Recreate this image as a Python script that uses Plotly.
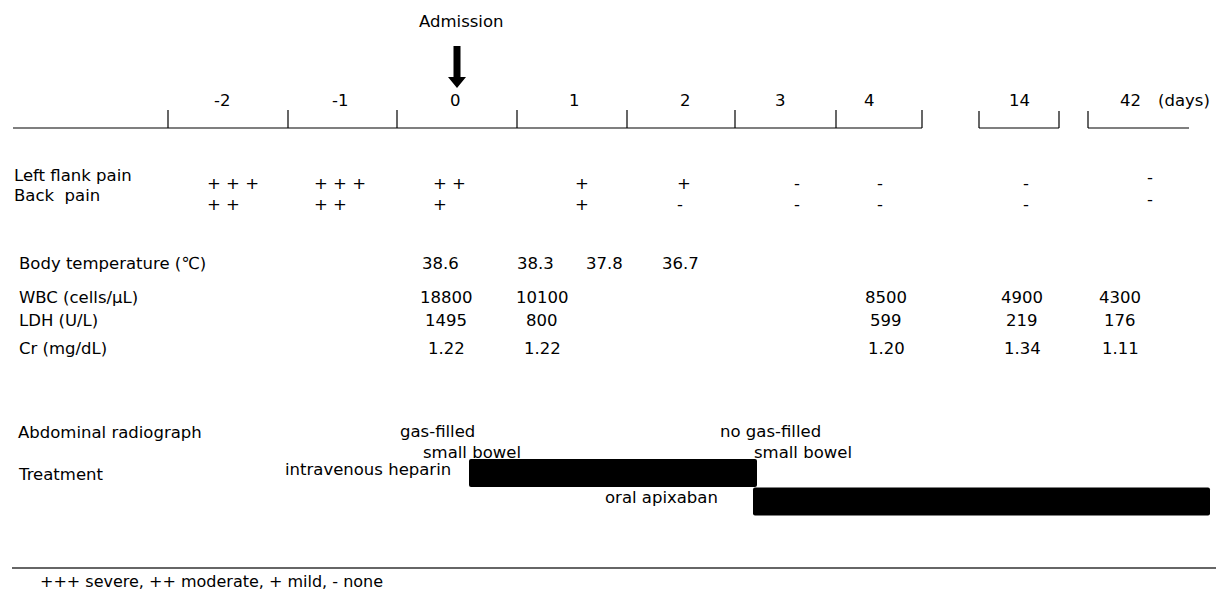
import plotly.graph_objects as go

# ---------------- data ----------------
days = ["-2", "-1", "0", "1", "2", "3", "4", "14", "42"]
left_flank_pain = ["+ + +", "+ + +", "+ +", "+", "+", "-", "-", "-", "-"]
back_pain = ["+ +", "+ +", "+", "+", "-", "-", "-", "-", "-"]

body_temperature = [38.6, 38.3, 37.8, 36.7]
lab_days = ["0", "1", "4", "14", "42"]
wbc = [18800, 10100, 8500, 4900, 4300]
ldh = [1495, 800, 599, 219, 176]
cr = [1.22, 1.22, 1.20, 1.34, 1.11]

radiograph = ["gas-filled<br>small bowel", "no gas-filled<br>small bowel"]
treatments = ["intravenous heparin", "oral apixaban"]
treatment_start = [469, 753]   # timeline position (start of therapy)
treatment_end = [757, 1210]    # timeline position (end of displayed therapy)

footnote = "+++ severe, ++ moderate, + mild, - none"

# ---------------- layout positions ----------------
FONT = dict(family="DejaVu Sans", size=16.5, color="black")
W, H = 1216, 592
DAY_LABEL_X = [222, 340, 455, 574, 685, 780, 869, 1019, 1130]
TICK_X = [168, 288, 397, 517, 627, 735, 836, 922]
PAIN_X = [205, 312, 431, 573, 675, 792, 875, 1021, 1145]
PAIN_Y1 = [183, 183, 183, 183, 183, 183, 183, 183, 177]
PAIN_Y2 = [204, 204, 204, 204, 204, 204, 204, 204, 199]
TEMP_X = [440, 535, 604, 680]
LAB_X = [446, 542, 886, 1022, 1120]
Y_TEMP, Y_WBC, Y_LDH, Y_CR = 263, 297, 320, 348

fig = go.Figure()
annotations = []
shapes = []


def txt(x, y, s, anchor="center", size=None):
    f = dict(FONT)
    if size:
        f["size"] = size
    annotations.append(dict(x=x, y=y, xref="x", yref="y", text=s, showarrow=False,
                            xanchor=anchor, yanchor="middle", font=f, align="left"))


def line(x0, y0, x1, y1, w=1.2, color="black"):
    shapes.append(dict(type="line", xref="x", yref="y", x0=x0, y0=y0, x1=x1, y1=y1,
                       line=dict(color=color, width=w)))


# timeline axis
line(13, 128, 922, 128)
for tx in TICK_X:
    line(tx, 110, tx, 128)
# follow-up brackets
line(979, 128, 1059, 128)
line(979, 111, 979, 128)
line(1059, 111, 1059, 128)
line(1088, 128, 1189, 128)
line(1088, 111, 1088, 128)

for d, x in zip(days, DAY_LABEL_X):
    txt(x, 100, d)
txt(1184, 100, "(days)")

# admission marker
txt(461, 21, "Admission")
shapes.append(dict(type="path", xref="x", yref="y",
                   path="M 453.5 46 L 460.5 46 L 460.5 77 L 466 77 L 457 88 L 448 77 L 453.5 77 Z",
                   fillcolor="black", line=dict(color="black", width=0)))

# row labels
txt(12, 175, "Left flank pain", "left")
txt(12, 195, "Back\u00a0 pain", "left")
txt(17, Y_TEMP, "Body temperature (℃)", "left")
txt(17, Y_WBC, "WBC (cells/μL)", "left")
txt(17, Y_LDH, "LDH (U/L)", "left")
txt(17, Y_CR, "Cr (mg/dL)", "left")
txt(16, 432, "Abdominal radiograph", "left")
txt(16, 474, "Treatment", "left")

# pain scores
for s, x, y in zip(left_flank_pain, PAIN_X, PAIN_Y1):
    txt(x, y, s, "left")
for s, x, y in zip(back_pain, PAIN_X, PAIN_Y2):
    txt(x, y, s, "left")

# vitals / labs
for v, x in zip(body_temperature, TEMP_X):
    txt(x, Y_TEMP, f"{v:.1f}")
for v, x in zip(wbc, LAB_X):
    txt(x, Y_WBC, f"{v}")
for v, x in zip(ldh, LAB_X):
    txt(x, Y_LDH, f"{v}")
for v, x in zip(cr, LAB_X):
    txt(x, Y_CR, f"{v:.2f}")

# radiograph findings
txt(398, 431, "gas-filled", "left")
txt(421, 452, "small bowel", "left")
txt(718, 431, "no gas-filled", "left")
txt(752, 452, "small bowel", "left")

# treatment bars
bar_y = [473, 501.5]
fig.add_trace(go.Bar(
    y=bar_y, base=treatment_start,
    x=[e - s for s, e in zip(treatment_start, treatment_end)],
    orientation="h", width=28, marker=dict(color="black", line=dict(width=0)),
    hoverinfo="skip", showlegend=False))
txt(453, 469, treatments[0], "right")
txt(720, 497, treatments[1], "right")

# bottom rule + footnote
line(12, 568, 1216, 568, w=1.4, color="#333333")
txt(38, 581, footnote, "left", size=16)

fig.update_layout(
    width=W, height=H, margin=dict(l=0, r=0, t=0, b=0),
    paper_bgcolor="white", plot_bgcolor="white",
    xaxis=dict(range=[0, W], visible=False, fixedrange=True),
    yaxis=dict(range=[H, 0], visible=False, fixedrange=True),
    annotations=annotations, shapes=shapes, barcornerradius=2,
    showlegend=False,
)

fig.write_html(
    "out.html",
    config={"displayModeBar": False},
    post_script="document.body.style.margin='0';document.body.style.overflow='hidden';",
)
